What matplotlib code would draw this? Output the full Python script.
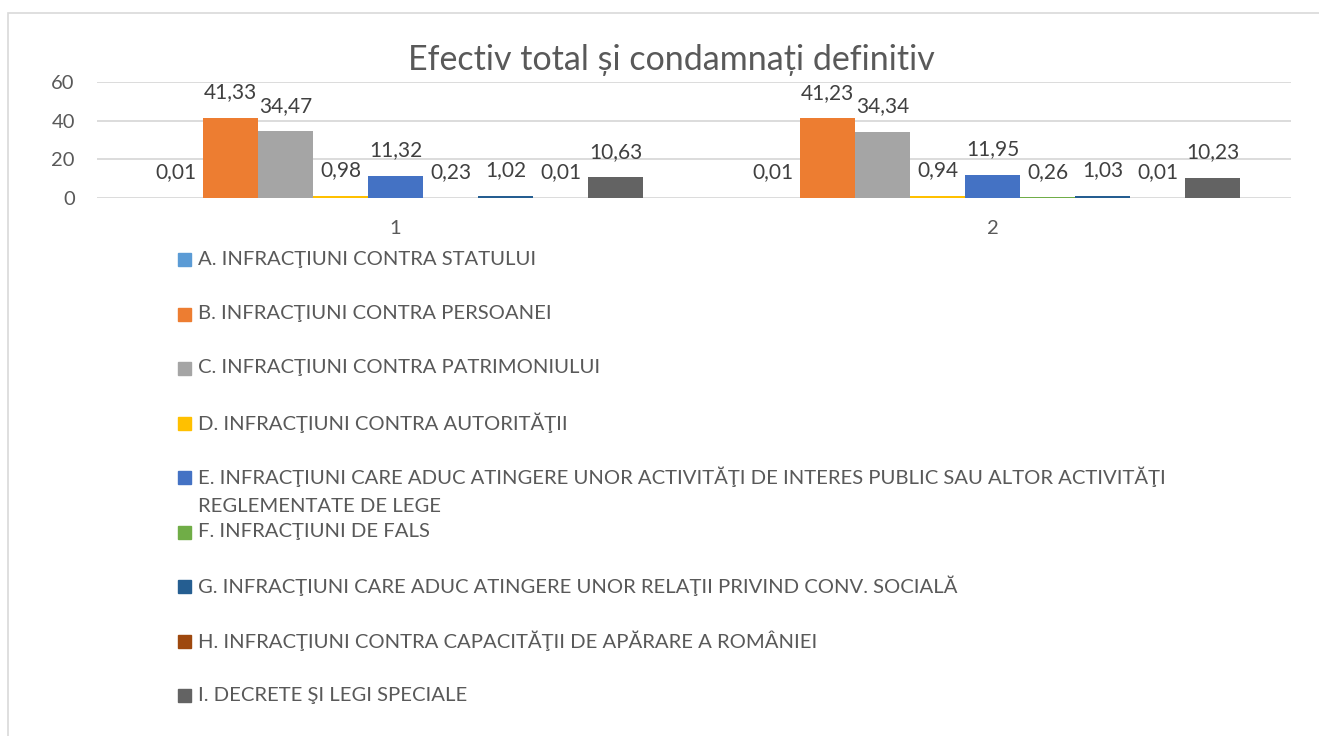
import matplotlib
matplotlib.use("Agg")
import matplotlib.pyplot as plt
from matplotlib.patches import Rectangle

plt.rcParams['font.family'] = ['Lato', 'DejaVu Sans']

# =========================
# data
# =========================
categories = ["1", "2"]
series_names = [
    "A. INFRACŢIUNI CONTRA STATULUI",
    "B. INFRACŢIUNI CONTRA PERSOANEI",
    "C. INFRACŢIUNI CONTRA PATRIMONIULUI",
    "D. INFRACŢIUNI CONTRA AUTORITĂŢII",
    "E. INFRACŢIUNI CARE ADUC ATINGERE UNOR ACTIVITĂŢI DE INTERES PUBLIC SAU ALTOR ACTIVITĂŢI\nREGLEMENTATE DE LEGE",
    "F. INFRACŢIUNI DE FALS",
    "G. INFRACŢIUNI CARE ADUC ATINGERE UNOR RELAŢII PRIVIND CONV. SOCIALĂ",
    "H. INFRACŢIUNI CONTRA CAPACITĂŢII DE APĂRARE A ROMÂNIEI",
    "I. DECRETE ŞI LEGI SPECIALE",
]
# one list per series: value for category 1, category 2
A_vals = [0.01, 0.01]
B_vals = [41.33, 41.23]
C_vals = [34.47, 34.34]
D_vals = [0.98, 0.94]
E_vals = [11.32, 11.95]
F_vals = [0.23, 0.26]
G_vals = [1.02, 1.03]
H_vals = [0.01, 0.01]
I_vals = [10.63, 10.23]
all_vals = [A_vals, B_vals, C_vals, D_vals, E_vals, F_vals, G_vals, H_vals, I_vals]

colors = ["#5B9BD5", "#ED7D31", "#A5A5A5", "#FFC000", "#4472C4",
          "#70AD47", "#255E91", "#9E480E", "#636363"]
TEXT = "#595959"
GRID = "#D9D9D9"

W, H = 1319, 736
fig = plt.figure(figsize=(W / 100, H / 100), dpi=100)

# plot area (pixel box from the reference)
x0, x1, ytop, ybot = 97, 1291, 82, 198
ax = fig.add_axes([x0 / W, 1 - ybot / H, (x1 - x0) / W, (ybot - ytop) / H])

bw = 55 / 597
n = len(all_vals)
for j, vals in enumerate(all_vals):
    xs = [i + (j - (n - 1) / 2) * bw for i in range(len(categories))]
    ax.bar(xs, vals, width=bw, color=colors[j], zorder=3)
    for x, v in zip(xs, vals):
        ax.annotate(f"{v:.2f}".replace(".", ","), (x, v), xytext=(0, 18.5),
                    textcoords="offset points", ha="center", va="center",
                    fontsize=15, color="#404040", zorder=4)

ax.set_xlim(-0.5, 1.5)
ax.set_ylim(0, 60)
ax.set_yticks([0, 20, 40, 60])
ax.set_xticks(range(len(categories)))
ax.set_xticklabels(categories)
ax.tick_params(axis="both", length=0, labelsize=14.5, colors=TEXT)
ax.tick_params(axis="y", pad=16)
ax.tick_params(axis="x", pad=16)
ax.grid(axis="y", color=GRID, lw=1.3, zorder=0)
for s in ax.spines.values():
    s.set_visible(False)
ax.set_facecolor("none")

fig.text(671 / W, 1 - 60 / H, "Efectiv total și condamnați definitiv",
         ha="center", va="center", fontsize=24.5, color=TEXT)

# legend drawn by hand: entries sit on fixed slots, E wraps to a second line
for j, name in enumerate(series_names):
    yc = 259 + j * 54.5
    fig.patches.append(Rectangle((178 / W, 1 - (yc + 7) / H), 13 / W, 13 / H,
                                 transform=fig.transFigure, color=colors[j]))
    lines = name.split("\n")
    for k, line in enumerate(lines):
        fig.text(198 / W, 1 - (yc + k * 29) / H, line, ha="left", va="center",
                 fontsize=14.6, color=TEXT)

# chart frame (runs off the right/bottom edge in the reference)
fig.patches.append(Rectangle((8 / W, -0.05), 1.0, 1 - 13 / H + 0.05,
                             transform=fig.transFigure, fill=False,
                             ec=GRID, lw=1.2))

fig.savefig("out.png", dpi=100)
